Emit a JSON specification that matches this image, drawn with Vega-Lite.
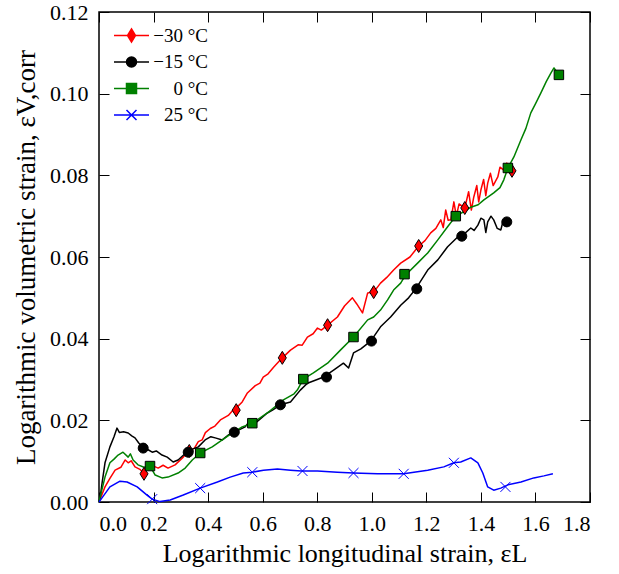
{
  "$schema": "https://vega.github.io/schema/vega-lite/v6.json",
  "width": 491,
  "height": 490,
  "autosize": {"type": "none"},
  "padding": {"left": 99, "top": 12, "right": 29, "bottom": 72},
  "background": "white",
  "datasets": {
    "curves": [
      {"s": "−30 °C", "x": 0, "y": 0}, {"s": "−30 °C", "x": 0.022, "y": 0.0037}, {"s": "−30 °C", "x": 0.04, "y": 0.0058}, {"s": "−30 °C", "x": 0.059, "y": 0.0078}, {"s": "−30 °C", "x": 0.08, "y": 0.0085}, {"s": "−30 °C", "x": 0.096, "y": 0.0103}, {"s": "−30 °C", "x": 0.107, "y": 0.0096}, {"s": "−30 °C", "x": 0.118, "y": 0.0101}, {"s": "−30 °C", "x": 0.132, "y": 0.0086}, {"s": "−30 °C", "x": 0.15, "y": 0.008}, {"s": "−30 °C", "x": 0.165, "y": 0.0069}, {"s": "−30 °C", "x": 0.187, "y": 0.0096}, {"s": "−30 °C", "x": 0.2, "y": 0.0088}, {"s": "−30 °C", "x": 0.217, "y": 0.0083}, {"s": "−30 °C", "x": 0.235, "y": 0.009}, {"s": "−30 °C", "x": 0.253, "y": 0.0083}, {"s": "−30 °C", "x": 0.279, "y": 0.0091}, {"s": "−30 °C", "x": 0.309, "y": 0.011}, {"s": "−30 °C", "x": 0.334, "y": 0.0127}, {"s": "−30 °C", "x": 0.35, "y": 0.0132}, {"s": "−30 °C", "x": 0.364, "y": 0.0148}, {"s": "−30 °C", "x": 0.378, "y": 0.0152}, {"s": "−30 °C", "x": 0.39, "y": 0.017}, {"s": "−30 °C", "x": 0.408, "y": 0.018}, {"s": "−30 °C", "x": 0.425, "y": 0.0186}, {"s": "−30 °C", "x": 0.445, "y": 0.0201}, {"s": "−30 °C", "x": 0.474, "y": 0.0212}, {"s": "−30 °C", "x": 0.49, "y": 0.0224}, {"s": "−30 °C", "x": 0.507, "y": 0.0233}, {"s": "−30 °C", "x": 0.525, "y": 0.0245}, {"s": "−30 °C", "x": 0.544, "y": 0.0267}, {"s": "−30 °C", "x": 0.573, "y": 0.0285}, {"s": "−30 °C", "x": 0.59, "y": 0.0291}, {"s": "−30 °C", "x": 0.602, "y": 0.0306}, {"s": "−30 °C", "x": 0.62, "y": 0.0314}, {"s": "−30 °C", "x": 0.64, "y": 0.033}, {"s": "−30 °C", "x": 0.672, "y": 0.0353}, {"s": "−30 °C", "x": 0.702, "y": 0.0372}, {"s": "−30 °C", "x": 0.73, "y": 0.0385}, {"s": "−30 °C", "x": 0.745, "y": 0.0384}, {"s": "−30 °C", "x": 0.764, "y": 0.0404}, {"s": "−30 °C", "x": 0.785, "y": 0.0412}, {"s": "−30 °C", "x": 0.801, "y": 0.0426}, {"s": "−30 °C", "x": 0.815, "y": 0.0421}, {"s": "−30 °C", "x": 0.838, "y": 0.0433}, {"s": "−30 °C", "x": 0.874, "y": 0.0453}, {"s": "−30 °C", "x": 0.9, "y": 0.048}, {"s": "−30 °C", "x": 0.929, "y": 0.05}, {"s": "−30 °C", "x": 0.945, "y": 0.0485}, {"s": "−30 °C", "x": 0.966, "y": 0.0463}, {"s": "−30 °C", "x": 0.985, "y": 0.0512}, {"s": "−30 °C", "x": 1.007, "y": 0.0514}, {"s": "−30 °C", "x": 1.032, "y": 0.0536}, {"s": "−30 °C", "x": 1.055, "y": 0.055}, {"s": "−30 °C", "x": 1.08, "y": 0.0568}, {"s": "−30 °C", "x": 1.106, "y": 0.0585}, {"s": "−30 °C", "x": 1.14, "y": 0.06}, {"s": "−30 °C", "x": 1.172, "y": 0.0627}, {"s": "−30 °C", "x": 1.195, "y": 0.064}, {"s": "−30 °C", "x": 1.216, "y": 0.0659}, {"s": "−30 °C", "x": 1.235, "y": 0.067}, {"s": "−30 °C", "x": 1.253, "y": 0.0691}, {"s": "−30 °C", "x": 1.262, "y": 0.0672}, {"s": "−30 °C", "x": 1.271, "y": 0.0715}, {"s": "−30 °C", "x": 1.28, "y": 0.069}, {"s": "−30 °C", "x": 1.29, "y": 0.0691}, {"s": "−30 °C", "x": 1.301, "y": 0.0735}, {"s": "−30 °C", "x": 1.31, "y": 0.07}, {"s": "−30 °C", "x": 1.32, "y": 0.073}, {"s": "−30 °C", "x": 1.341, "y": 0.072}, {"s": "−30 °C", "x": 1.355, "y": 0.076}, {"s": "−30 °C", "x": 1.365, "y": 0.0715}, {"s": "−30 °C", "x": 1.374, "y": 0.0747}, {"s": "−30 °C", "x": 1.385, "y": 0.0775}, {"s": "−30 °C", "x": 1.392, "y": 0.0735}, {"s": "−30 °C", "x": 1.4, "y": 0.0764}, {"s": "−30 °C", "x": 1.41, "y": 0.079}, {"s": "−30 °C", "x": 1.418, "y": 0.075}, {"s": "−30 °C", "x": 1.425, "y": 0.0781}, {"s": "−30 °C", "x": 1.435, "y": 0.0805}, {"s": "−30 °C", "x": 1.445, "y": 0.0775}, {"s": "−30 °C", "x": 1.462, "y": 0.0796}, {"s": "−30 °C", "x": 1.47, "y": 0.082}, {"s": "−30 °C", "x": 1.484, "y": 0.0813}, {"s": "−30 °C", "x": 1.495, "y": 0.083}, {"s": "−30 °C", "x": 1.514, "y": 0.0811},

      {"s": "−15 °C", "x": 0, "y": 0}, {"s": "−15 °C", "x": 0.004, "y": 0.001}, {"s": "−15 °C", "x": 0.012, "y": 0.005}, {"s": "−15 °C", "x": 0.022, "y": 0.0096}, {"s": "−15 °C", "x": 0.04, "y": 0.0135}, {"s": "−15 °C", "x": 0.055, "y": 0.016}, {"s": "−15 °C", "x": 0.066, "y": 0.0181}, {"s": "−15 °C", "x": 0.075, "y": 0.017}, {"s": "−15 °C", "x": 0.09, "y": 0.0172}, {"s": "−15 °C", "x": 0.107, "y": 0.0169}, {"s": "−15 °C", "x": 0.12, "y": 0.0162}, {"s": "−15 °C", "x": 0.132, "y": 0.0157}, {"s": "−15 °C", "x": 0.145, "y": 0.0145}, {"s": "−15 °C", "x": 0.162, "y": 0.0132}, {"s": "−15 °C", "x": 0.18, "y": 0.0128}, {"s": "−15 °C", "x": 0.195, "y": 0.0122}, {"s": "−15 °C", "x": 0.21, "y": 0.0125}, {"s": "−15 °C", "x": 0.231, "y": 0.0115}, {"s": "−15 °C", "x": 0.25, "y": 0.011}, {"s": "−15 °C", "x": 0.272, "y": 0.0098}, {"s": "−15 °C", "x": 0.29, "y": 0.0103}, {"s": "−15 °C", "x": 0.31, "y": 0.0115}, {"s": "−15 °C", "x": 0.327, "y": 0.0122}, {"s": "−15 °C", "x": 0.345, "y": 0.013}, {"s": "−15 °C", "x": 0.364, "y": 0.0135}, {"s": "−15 °C", "x": 0.389, "y": 0.0152}, {"s": "−15 °C", "x": 0.41, "y": 0.016}, {"s": "−15 °C", "x": 0.426, "y": 0.0157}, {"s": "−15 °C", "x": 0.452, "y": 0.0152}, {"s": "−15 °C", "x": 0.474, "y": 0.0164}, {"s": "−15 °C", "x": 0.496, "y": 0.0171}, {"s": "−15 °C", "x": 0.536, "y": 0.0184}, {"s": "−15 °C", "x": 0.555, "y": 0.0201}, {"s": "−15 °C", "x": 0.573, "y": 0.0193}, {"s": "−15 °C", "x": 0.617, "y": 0.0218}, {"s": "−15 °C", "x": 0.636, "y": 0.0225}, {"s": "−15 °C", "x": 0.665, "y": 0.0238}, {"s": "−15 °C", "x": 0.702, "y": 0.0245}, {"s": "−15 °C", "x": 0.738, "y": 0.0274}, {"s": "−15 °C", "x": 0.764, "y": 0.0291}, {"s": "−15 °C", "x": 0.8, "y": 0.03}, {"s": "−15 °C", "x": 0.823, "y": 0.0306}, {"s": "−15 °C", "x": 0.86, "y": 0.0323}, {"s": "−15 °C", "x": 0.896, "y": 0.034}, {"s": "−15 °C", "x": 0.915, "y": 0.0328}, {"s": "−15 °C", "x": 0.933, "y": 0.0365}, {"s": "−15 °C", "x": 0.96, "y": 0.0375}, {"s": "−15 °C", "x": 0.996, "y": 0.0394}, {"s": "−15 °C", "x": 1.032, "y": 0.0429}, {"s": "−15 °C", "x": 1.069, "y": 0.0453}, {"s": "−15 °C", "x": 1.106, "y": 0.0482}, {"s": "−15 °C", "x": 1.135, "y": 0.05}, {"s": "−15 °C", "x": 1.161, "y": 0.0522}, {"s": "−15 °C", "x": 1.205, "y": 0.0568}, {"s": "−15 °C", "x": 1.242, "y": 0.0593}, {"s": "−15 °C", "x": 1.278, "y": 0.0625}, {"s": "−15 °C", "x": 1.315, "y": 0.0649}, {"s": "−15 °C", "x": 1.33, "y": 0.0651}, {"s": "−15 °C", "x": 1.363, "y": 0.0671}, {"s": "−15 °C", "x": 1.375, "y": 0.0665}, {"s": "−15 °C", "x": 1.389, "y": 0.0678}, {"s": "−15 °C", "x": 1.4, "y": 0.0695}, {"s": "−15 °C", "x": 1.411, "y": 0.0691}, {"s": "−15 °C", "x": 1.418, "y": 0.066}, {"s": "−15 °C", "x": 1.425, "y": 0.0686}, {"s": "−15 °C", "x": 1.437, "y": 0.07}, {"s": "−15 °C", "x": 1.447, "y": 0.0691}, {"s": "−15 °C", "x": 1.46, "y": 0.067}, {"s": "−15 °C", "x": 1.473, "y": 0.0666}, {"s": "−15 °C", "x": 1.482, "y": 0.069}, {"s": "−15 °C", "x": 1.495, "y": 0.0686},

      {"s": "0 °C", "x": 0, "y": 0}, {"s": "0 °C", "x": 0.004, "y": 0.0012}, {"s": "0 °C", "x": 0.022, "y": 0.0061}, {"s": "0 °C", "x": 0.04, "y": 0.0096}, {"s": "0 °C", "x": 0.055, "y": 0.0105}, {"s": "0 °C", "x": 0.07, "y": 0.0115}, {"s": "0 °C", "x": 0.088, "y": 0.0122}, {"s": "0 °C", "x": 0.107, "y": 0.011}, {"s": "0 °C", "x": 0.115, "y": 0.0118}, {"s": "0 °C", "x": 0.125, "y": 0.0103}, {"s": "0 °C", "x": 0.143, "y": 0.0091}, {"s": "0 °C", "x": 0.165, "y": 0.0085}, {"s": "0 °C", "x": 0.187, "y": 0.0088}, {"s": "0 °C", "x": 0.206, "y": 0.0066}, {"s": "0 °C", "x": 0.231, "y": 0.0059}, {"s": "0 °C", "x": 0.253, "y": 0.0061}, {"s": "0 °C", "x": 0.29, "y": 0.0071}, {"s": "0 °C", "x": 0.316, "y": 0.0083}, {"s": "0 °C", "x": 0.342, "y": 0.0103}, {"s": "0 °C", "x": 0.371, "y": 0.012}, {"s": "0 °C", "x": 0.415, "y": 0.0135}, {"s": "0 °C", "x": 0.452, "y": 0.0152}, {"s": "0 °C", "x": 0.489, "y": 0.0169}, {"s": "0 °C", "x": 0.525, "y": 0.0184}, {"s": "0 °C", "x": 0.562, "y": 0.0193}, {"s": "0 °C", "x": 0.617, "y": 0.0218}, {"s": "0 °C", "x": 0.676, "y": 0.025}, {"s": "0 °C", "x": 0.715, "y": 0.0265}, {"s": "0 °C", "x": 0.727, "y": 0.0274}, {"s": "0 °C", "x": 0.749, "y": 0.0301}, {"s": "0 °C", "x": 0.786, "y": 0.0316}, {"s": "0 °C", "x": 0.838, "y": 0.034}, {"s": "0 °C", "x": 0.885, "y": 0.0372}, {"s": "0 °C", "x": 0.933, "y": 0.0404}, {"s": "0 °C", "x": 0.985, "y": 0.0446}, {"s": "0 °C", "x": 1.007, "y": 0.0453}, {"s": "0 °C", "x": 1.032, "y": 0.047}, {"s": "0 °C", "x": 1.058, "y": 0.0495}, {"s": "0 °C", "x": 1.08, "y": 0.0519}, {"s": "0 °C", "x": 1.106, "y": 0.0536}, {"s": "0 °C", "x": 1.124, "y": 0.0556}, {"s": "0 °C", "x": 1.168, "y": 0.0585}, {"s": "0 °C", "x": 1.205, "y": 0.061}, {"s": "0 °C", "x": 1.242, "y": 0.0642}, {"s": "0 °C", "x": 1.278, "y": 0.0674}, {"s": "0 °C", "x": 1.308, "y": 0.07}, {"s": "0 °C", "x": 1.34, "y": 0.0712}, {"s": "0 °C", "x": 1.363, "y": 0.0722}, {"s": "0 °C", "x": 1.39, "y": 0.0728}, {"s": "0 °C", "x": 1.411, "y": 0.074}, {"s": "0 °C", "x": 1.447, "y": 0.0757}, {"s": "0 °C", "x": 1.47, "y": 0.077}, {"s": "0 °C", "x": 1.484, "y": 0.0789}, {"s": "0 °C", "x": 1.499, "y": 0.0818}, {"s": "0 °C", "x": 1.521, "y": 0.0845}, {"s": "0 °C", "x": 1.547, "y": 0.0887}, {"s": "0 °C", "x": 1.565, "y": 0.0915}, {"s": "0 °C", "x": 1.583, "y": 0.0953}, {"s": "0 °C", "x": 1.6, "y": 0.0975}, {"s": "0 °C", "x": 1.62, "y": 0.1002}, {"s": "0 °C", "x": 1.64, "y": 0.103}, {"s": "0 °C", "x": 1.657, "y": 0.1051}, {"s": "0 °C", "x": 1.668, "y": 0.1063}, {"s": "0 °C", "x": 1.686, "y": 0.1046},

      {"s": "25 °C", "x": 0, "y": 0}, {"s": "25 °C", "x": 0.011, "y": 0.001}, {"s": "25 °C", "x": 0.04, "y": 0.0037}, {"s": "25 °C", "x": 0.077, "y": 0.0051}, {"s": "25 °C", "x": 0.103, "y": 0.0049}, {"s": "25 °C", "x": 0.14, "y": 0.0037}, {"s": "25 °C", "x": 0.176, "y": 0.0017}, {"s": "25 °C", "x": 0.195, "y": 0.0007}, {"s": "25 °C", "x": 0.224, "y": 0.0001}, {"s": "25 °C", "x": 0.261, "y": 0.0005}, {"s": "25 °C", "x": 0.309, "y": 0.0017}, {"s": "25 °C", "x": 0.371, "y": 0.0034}, {"s": "25 °C", "x": 0.434, "y": 0.0049}, {"s": "25 °C", "x": 0.481, "y": 0.0061}, {"s": "25 °C", "x": 0.529, "y": 0.0071}, {"s": "25 °C", "x": 0.562, "y": 0.0073}, {"s": "25 °C", "x": 0.603, "y": 0.0078}, {"s": "25 °C", "x": 0.654, "y": 0.0081}, {"s": "25 °C", "x": 0.702, "y": 0.0078}, {"s": "25 °C", "x": 0.742, "y": 0.0076}, {"s": "25 °C", "x": 0.801, "y": 0.0076}, {"s": "25 °C", "x": 0.874, "y": 0.0073}, {"s": "25 °C", "x": 0.933, "y": 0.0071}, {"s": "25 °C", "x": 1.021, "y": 0.0069}, {"s": "25 °C", "x": 1.117, "y": 0.0069}, {"s": "25 °C", "x": 1.205, "y": 0.0078}, {"s": "25 °C", "x": 1.264, "y": 0.0086}, {"s": "25 °C", "x": 1.301, "y": 0.0096}, {"s": "25 °C", "x": 1.326, "y": 0.0098}, {"s": "25 °C", "x": 1.363, "y": 0.0108}, {"s": "25 °C", "x": 1.389, "y": 0.0096}, {"s": "25 °C", "x": 1.407, "y": 0.0071}, {"s": "25 °C", "x": 1.425, "y": 0.0037}, {"s": "25 °C", "x": 1.447, "y": 0.0029}, {"s": "25 °C", "x": 1.473, "y": 0.0034}, {"s": "25 °C", "x": 1.499, "y": 0.0042}, {"s": "25 °C", "x": 1.547, "y": 0.0049}, {"s": "25 °C", "x": 1.594, "y": 0.0059}, {"s": "25 °C", "x": 1.631, "y": 0.0064}, {"s": "25 °C", "x": 1.664, "y": 0.0069}
    ],
    "markers": [
      {"s": "−30 °C", "x": 0.165, "y": 0.0069}, {"s": "−30 °C", "x": 0.331, "y": 0.0125}, {"s": "−30 °C", "x": 0.503, "y": 0.0225}, {"s": "−30 °C", "x": 0.672, "y": 0.0353}, {"s": "−30 °C", "x": 0.838, "y": 0.0433}, {"s": "−30 °C", "x": 1.007, "y": 0.0514}, {"s": "−30 °C", "x": 1.172, "y": 0.0627}, {"s": "−30 °C", "x": 1.341, "y": 0.072}, {"s": "−30 °C", "x": 1.514, "y": 0.0811},
      {"s": "−15 °C", "x": 0.162, "y": 0.0132}, {"s": "−15 °C", "x": 0.327, "y": 0.0122}, {"s": "−15 °C", "x": 0.496, "y": 0.0171}, {"s": "−15 °C", "x": 0.665, "y": 0.0238}, {"s": "−15 °C", "x": 0.834, "y": 0.0306}, {"s": "−15 °C", "x": 0.999, "y": 0.0394}, {"s": "−15 °C", "x": 1.165, "y": 0.0522}, {"s": "−15 °C", "x": 1.33, "y": 0.0651}, {"s": "−15 °C", "x": 1.495, "y": 0.0686},
      {"s": "0 °C", "x": 0.187, "y": 0.0088}, {"s": "0 °C", "x": 0.371, "y": 0.012}, {"s": "0 °C", "x": 0.562, "y": 0.0193}, {"s": "0 °C", "x": 0.749, "y": 0.0301}, {"s": "0 °C", "x": 0.933, "y": 0.0404}, {"s": "0 °C", "x": 1.12, "y": 0.0558}, {"s": "0 °C", "x": 1.308, "y": 0.07}, {"s": "0 °C", "x": 1.499, "y": 0.0818}, {"s": "0 °C", "x": 1.686, "y": 0.1046},
      {"s": "25 °C", "x": 0.195, "y": 0.0007}, {"s": "25 °C", "x": 0.371, "y": 0.0034}, {"s": "25 °C", "x": 0.562, "y": 0.0073}, {"s": "25 °C", "x": 0.746, "y": 0.0076}, {"s": "25 °C", "x": 0.933, "y": 0.0071}, {"s": "25 °C", "x": 1.117, "y": 0.0069}, {"s": "25 °C", "x": 1.301, "y": 0.0096}, {"s": "25 °C", "x": 1.49, "y": 0.0037}
    ]
  },
  "layer": [
    {
      "data": {"name": "curves"},
      "mark": {"type": "line", "strokeWidth": 1.5, "strokeJoin": "round"},
      "encoding": {
        "x": {"field": "x", "type": "quantitative", "scale": {"domain": [0, 1.8], "nice": false, "zero": false},
              "axis": {"orient": "bottom", "values": [0, 0.2, 0.4, 0.6, 0.8, 1.0, 1.2, 1.4, 1.6, 1.8], "format": ".1f", "title": "Logarithmic longitudinal strain, εL", "labelPadding": 21, "titlePadding": 6, "titleFontSize": 26}},
        "y": {"field": "y", "type": "quantitative", "scale": {"domain": [0, 0.12], "nice": false, "zero": false},
              "axis": {"orient": "left", "values": [0, 0.02, 0.04, 0.06, 0.08, 0.1, 0.12], "format": ".2f", "title": "Logarithmic volumetric strain, εV,corr", "labelPadding": 21, "titlePadding": 9, "titleFontSize": 27}},
        "color": {"field": "s", "type": "nominal", "legend": null,
                  "scale": {"domain": ["−30 °C", "−15 °C", "0 °C", "25 °C"], "range": ["#ff0000", "#000000", "#008000", "#0000ff"]}}
      }
    },
    {
      "data": {"name": "markers"},
      "mark": {"type": "point", "filled": true, "size": 169, "strokeWidth": 1, "opacity": 1},
      "encoding": {
        "x": {"field": "x", "type": "quantitative", "axis": {"orient": "top", "values": [0, 0.2, 0.4, 0.6, 0.8, 1.0, 1.2, 1.4, 1.6, 1.8], "labels": false, "title": null}},
        "y": {"field": "y", "type": "quantitative", "axis": {"orient": "right", "values": [0, 0.02, 0.04, 0.06, 0.08, 0.1, 0.12], "labels": false, "title": null}},
        "shape": {"field": "s", "type": "nominal", "legend": null,
                  "scale": {"domain": ["−30 °C", "−15 °C", "0 °C", "25 °C"], "range": ["M0,-1L0.62,0L0,1L-0.62,0Z", "M0.77,0A0.77,0.77 0 1,1 -0.77,0A0.77,0.77 0 1,1 0.77,0Z", "M-0.73,-0.73H0.73V0.73H-0.73Z", "M-0.77,-0.77L0.77,0.77M-0.77,0.77L0.77,-0.77"]}},
        "fill": {"field": "s", "type": "nominal", "legend": null,
                 "scale": {"domain": ["−30 °C", "−15 °C", "0 °C", "25 °C"], "range": ["#ff0000", "#000000", "#008000", "transparent"]}},
        "stroke": {"field": "s", "type": "nominal", "legend": null,
                   "scale": {"domain": ["−30 °C", "−15 °C", "0 °C", "25 °C"], "range": ["#000000", "#000000", "#000000", "#0000ff"]}}
      }
    },
    {
      "data": {"name": "markers"},
      "transform": [{"filter": "datum.x > 9"}],
      "mark": {"type": "point", "filled": true, "fill": "#ff0000", "stroke": "#ff0000", "strokeWidth": 1.5, "size": 100, "opacity": 1},
      "encoding": {
        "x": {"field": "x", "type": "quantitative", "axis": null},
        "y": {"field": "y", "type": "quantitative", "axis": null},
        "shape": {"field": "s", "type": "nominal", "scale": {"domain": ["−30 °C"], "range": ["M-3.5,0H3.5M0,-1.3L0.8,0L0,1.3L-0.8,0Z"]},
                  "legend": {"orient": "top-left", "title": null, "offset": 12, "padding": 2, "symbolOffset": 9, "labelAlign": "right", "labelOffset": 67}}
      }
    },
    {
      "data": {"name": "markers"},
      "transform": [{"filter": "datum.x > 9"}],
      "mark": {"type": "point", "filled": true, "fill": "#000000", "stroke": "#000000", "strokeWidth": 1.5, "size": 100, "opacity": 1},
      "encoding": {
        "x": {"field": "x", "type": "quantitative", "axis": null},
        "y": {"field": "y", "type": "quantitative", "axis": null},
        "shape": {"field": "s", "type": "nominal", "scale": {"domain": ["−15 °C"], "range": ["M-3.5,0H3.5M1,0A1,1 0 1,1 -1,0A1,1 0 1,1 1,0Z"]},
                  "legend": {"orient": "top-left", "title": null, "offset": 12, "padding": 2, "symbolOffset": 9, "labelAlign": "right", "labelOffset": 67}}
      }
    },
    {
      "data": {"name": "markers"},
      "transform": [{"filter": "datum.x > 9"}],
      "mark": {"type": "point", "filled": true, "fill": "#008000", "stroke": "#008000", "strokeWidth": 1.5, "size": 100, "opacity": 1},
      "encoding": {
        "x": {"field": "x", "type": "quantitative", "axis": null},
        "y": {"field": "y", "type": "quantitative", "axis": null},
        "shape": {"field": "s", "type": "nominal", "scale": {"domain": ["0 °C"], "range": ["M-3.5,0H3.5M-1,-1H1V1H-1Z"]},
                  "legend": {"orient": "top-left", "title": null, "offset": 12, "padding": 2, "symbolOffset": 9, "labelAlign": "right", "labelOffset": 67}}
      }
    },
    {
      "data": {"name": "markers"},
      "transform": [{"filter": "datum.x > 9"}],
      "mark": {"type": "point", "filled": true, "fill": "transparent", "stroke": "#0000ff", "strokeWidth": 1.5, "size": 100, "opacity": 1},
      "encoding": {
        "x": {"field": "x", "type": "quantitative", "axis": null},
        "y": {"field": "y", "type": "quantitative", "axis": null},
        "shape": {"field": "s", "type": "nominal", "scale": {"domain": ["25 °C"], "range": ["M-3.5,0H3.5M-1,-1L1,1M-1,1L1,-1"]},
                  "legend": {"orient": "top-left", "title": null, "offset": 12, "padding": 2, "symbolOffset": 9, "labelAlign": "right", "labelOffset": 67}}
      }
    }
  ],
  "resolve": {"axis": {"x": "independent", "y": "independent"}, "scale": {"shape": "independent"}, "legend": {"shape": "independent"}},
  "config": {
    "view": {"stroke": "black", "strokeWidth": 1.5},
    "axis": {"domain": false, "grid": false, "ticks": true, "tickColor": "black", "tickSize": -10, "tickWidth": 1,
             "labelFont": "Liberation Serif", "labelFontSize": 22, "labelColor": "black",
             "titleFont": "Liberation Serif", "titleFontSize": 26, "titleFontWeight": "normal", "titleColor": "black"},
    "legend": {"labelFont": "Liberation Serif", "labelFontSize": 19, "labelColor": "black",
               "layout": {"top-left": {"direction": "vertical", "anchor": "start", "margin": 2.5}}}
  }
}
